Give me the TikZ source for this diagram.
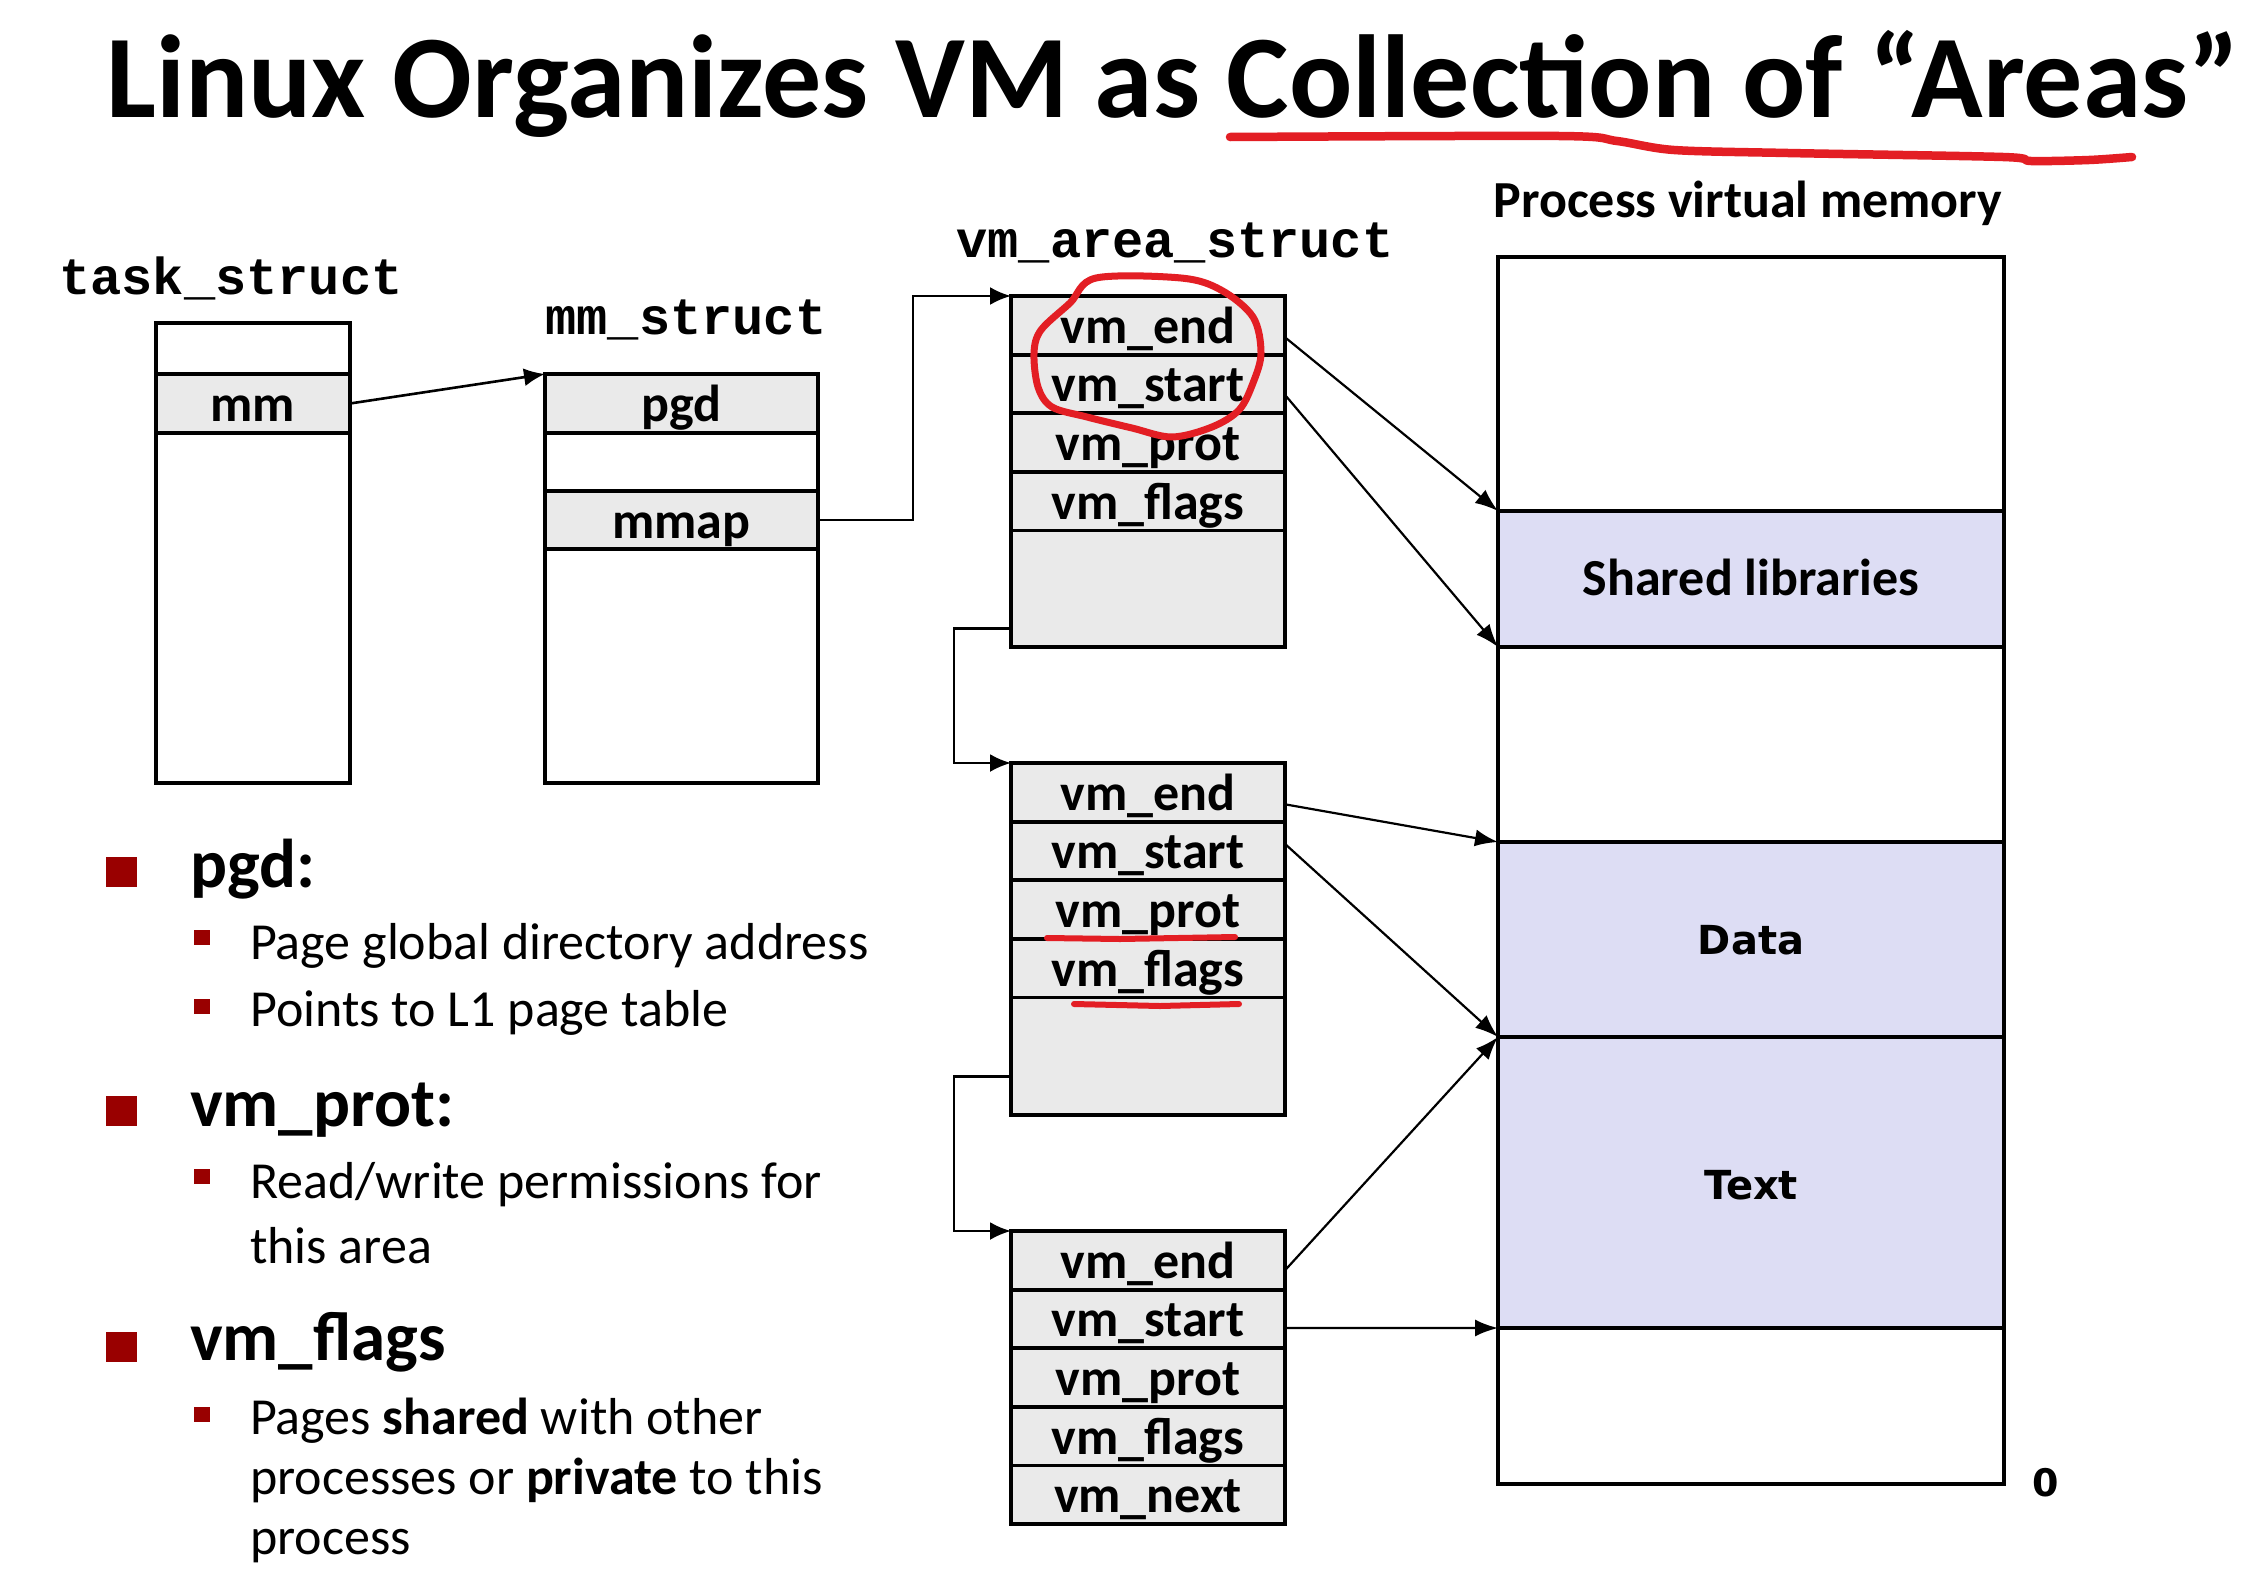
\documentclass[tikz,border=0pt]{standalone}
\usepackage{fontspec}
\setmainfont{Carlito}
\newfontfamily\monofont{Liberation Mono}
\newfontfamily\verdfont{DejaVu Sans}
\usetikzlibrary{arrows.meta}
\definecolor{cellgray}{HTML}{EAEAEA}
\definecolor{lav}{HTML}{DDDDF4}
\definecolor{pen}{HTML}{E31E24}
\definecolor{bul}{HTML}{990000}
\begin{document}
\begin{tikzpicture}[x=1pt,y=-1pt,
  cell/.style={draw, line width=3.8pt, inner sep=0pt, outer sep=0pt, anchor=north west,
    font=\fontsize{52}{62}\selectfont\bfseries, text height=40pt, text depth=4pt},
  taskw/.style={minimum width=194pt},
  mmw/.style={minimum width=273pt},
  vmw/.style={minimum width=274pt, minimum height=58.6pt, fill=cellgray},
  memw/.style={minimum width=506pt},
  monolbl/.style={anchor=base, inner sep=0pt, font=\monofont\bfseries\fontsize{52}{62}\selectfont},
  conn/.style={line width=2.6pt, -{Latex[length=21pt,width=18pt]}},
  diag/.style={line width=2.2pt, -{Latex[length=23pt,width=17pt]}},
  hfont/.style={anchor=base west, inner sep=0pt, font=\fontsize{69}{80}\selectfont\bfseries},
  sfont/.style={anchor=base west, inner sep=0pt, font=\fontsize{52}{62}\selectfont},
  redpen/.style={draw=pen, line cap=round, line join=round}
]
\useasboundingbox[fill=white] (0,0) rectangle (2242,1582);

% title
\node[anchor=base, inner sep=0pt, font=\fontsize{118}{140}\selectfont\bfseries] (title) at (1173,117) {Linux Organizes VM as Collection of “Areas”};
\draw[redpen, line width=8.5pt] plot[smooth, tension=0.5] coordinates {(1230,137) (1559,136) (1617,141) (1674,150) (1788,153) (2003,157) (2031,161) (2089,160) (2132,157)};

% labels
\node[monolbl] (tasklbl) at (231,294) {task\_struct};
\node[monolbl] (mmlbl) at (686,334) {mm\_struct};
\node[monolbl] (vmlbl) at (1175,257) {vm\_area\_struct};
\node[anchor=base, inner sep=0pt, font=\fontsize{52}{62}\selectfont\bfseries] (pvm) at (1748,217) {Process virtual memory};

% task_struct
\node[cell,taskw,fill=white,minimum height=51pt] (t0) at (156,323) {};
\node[cell,taskw,fill=cellgray,minimum height=59pt] (tmm) at (156,374) {mm};
\node[cell,taskw,fill=white,minimum height=350pt] (trest) at (156,433) {};

% mm_struct
\node[cell,mmw,fill=cellgray,minimum height=59pt] (mpgd) at (545,374) {pgd};
\node[cell,mmw,fill=white,minimum height=58pt] (mblank) at (545,433) {};
\node[cell,mmw,fill=cellgray,minimum height=58pt] (mmmap) at (545,491) {mmap};
\node[cell,mmw,fill=white,minimum height=234pt] (mrest) at (545,549) {};

% vm_area_struct 1
\node[cell,vmw] (v1end) at (1011,296) {vm\_end};
\node[cell,vmw] (v1start) at (1011,354.6) {vm\_start};
\node[cell,vmw] (v1prot) at (1011,413.2) {vm\_prot};
\node[cell,vmw] (v1flags) at (1011,471.8) {vm\_flags};
\node[cell,vmw,minimum height=116.6pt] (v1blank) at (1011,530.4) {};

% vm_area_struct 2
\node[cell,vmw] (v2end) at (1011,763) {vm\_end};
\node[cell,vmw] (v2start) at (1011,821.6) {vm\_start};
\node[cell,vmw] (v2prot) at (1011,880.2) {vm\_prot};
\node[cell,vmw] (v2flags) at (1011,938.8) {vm\_flags};
\node[cell,vmw,minimum height=117.6pt] (v2blank) at (1011,997.4) {};

% vm_area_struct 3
\node[cell,vmw] (v3end) at (1011,1231) {vm\_end};
\node[cell,vmw] (v3start) at (1011,1289.6) {vm\_start};
\node[cell,vmw] (v3prot) at (1011,1348.2) {vm\_prot};
\node[cell,vmw] (v3flags) at (1011,1406.8) {vm\_flags};
\node[cell,vmw] (v3next) at (1011,1465.4) {vm\_next};

% process virtual memory
\node[cell,memw,fill=white,minimum height=254pt] (mem0) at (1498,257) {};
\node[cell,memw,fill=lav,minimum height=136pt,text height=34pt,text depth=2pt] (mshared) at (1498,511) {Shared libraries};
\node[cell,memw,fill=white,minimum height=195pt] (mem2) at (1498,647) {};
\node[cell,memw,fill=lav,minimum height=195pt,font=\verdfont\bfseries\fontsize{40}{48}\selectfont,text height=30pt,text depth=0pt] (mdata) at (1498,842) {Data};
\node[cell,memw,fill=lav,minimum height=291pt,font=\verdfont\bfseries\fontsize{40}{48}\selectfont,text height=34pt,text depth=0pt] (mtext) at (1498,1037) {Text};
\node[cell,memw,fill=white,minimum height=156pt] (mem5) at (1498,1328) {};
\node[anchor=base, inner sep=0pt, font=\verdfont\bfseries\fontsize{38}{44}\selectfont] (zero) at (2046,1496) {0};

% connectors
\draw[conn] (tmm.east) -- (mpgd.north west);
\draw[conn] (mmmap.east) -- ++(95,0) |- (v1end.north west);
\draw[conn] ([yshift=-40pt]v1blank.west) -- ++(-57,0) |- (v2end.north west);
\draw[conn] ([yshift=-20pt]v2blank.west) -- ++(-57,0) |- (v3end.north west);

\draw[diag] ([yshift=-12pt]v1end.east) -- (mshared.north west);
\draw[diag] ([yshift=-11pt]v1start.east) -- (mshared.south west);
\draw[diag] ([yshift=-12pt]v2end.east) -- (mdata.north west);
\draw[diag] ([yshift=7pt]v2start.east) -- (mdata.south west);
\draw[diag] ([yshift=-10pt]v3end.east) -- (mtext.north west);
\draw[diag] ([yshift=-9pt]v3start.east) -- (mtext.south west);

% red annotations
\draw[redpen, line width=7pt] plot[smooth cycle, tension=0.55] coordinates {(1096,278) (1181,278) (1221,290) (1253,317) (1261,353) (1253,383) (1239,410) (1212,427) (1172,437) (1132,428) (1087,417) (1052,407) (1038,387) (1034,353) (1041,330) (1070,303)};
\draw[redpen, line width=6pt] (1047,938) -- (1120,939) -- (1235,937);
\draw[redpen, line width=6pt] (1074,1004) -- (1160,1006) -- (1239,1004);

% bullets
\fill[bul] (106,857) rectangle (137,887);
\fill[bul] (106,1096) rectangle (137,1126);
\fill[bul] (106,1332) rectangle (137,1362);
\fill[bul] (194,930) rectangle (210,945);
\fill[bul] (194,999) rectangle (210,1014);
\fill[bul] (194,1169) rectangle (210,1184);
\fill[bul] (194,1407) rectangle (210,1422);

\node[hfont] (h1) at (190,887) {pgd:};
\node[sfont] (s1) at (250,959) {Page global directory address};
\node[sfont] (s2) at (250,1026) {Points to L1 page table};
\node[hfont] (h2) at (190,1126) {vm\_prot:};
\node[sfont] (s3) at (250,1198) {Read/write permissions for};
\node[sfont] (s3b) at (250,1263) {this area};
\node[hfont] (h3) at (190,1360) {vm\_flags};
\node[sfont] (s4) at (250,1434) {Pages \textbf{shared} with other};
\node[sfont] (s4b) at (250,1494) {processes or \textbf{private} to this};
\node[sfont] (s4c) at (250,1554) {process};
\end{tikzpicture}
\end{document}
